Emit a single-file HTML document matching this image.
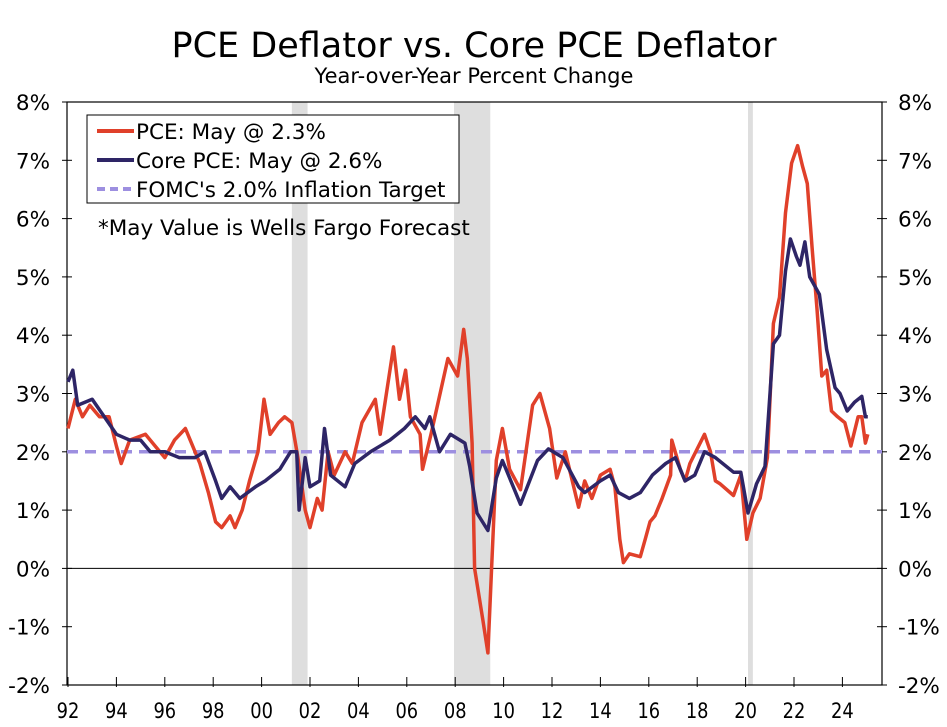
<!DOCTYPE html>
<html><head><meta charset="utf-8"><style>
body{margin:0;background:#fff;}
svg{display:block;font-family:"DejaVu Sans","Liberation Sans",sans-serif;}
</style></head><body>
<svg id="chart" width="947" height="727" viewBox="0 0 947 727">
<text x="474" y="57" text-anchor="middle" font-size="35" fill="#000">PCE Deflator vs. Core PCE Deflator</text>
<text x="474" y="83" text-anchor="middle" font-size="21" fill="#000">Year-over-Year Percent Change</text>
<g id="rec"></g>
<g id="grid"></g>
<g id="series"></g>
<g>
<rect x="87" y="115" width="372" height="88" fill="#fff" stroke="#000" stroke-width="1"/>
<line x1="97" y1="131" x2="134" y2="131" stroke="#e0402a" stroke-width="4"/>
<text x="136" y="139" font-size="21.5">PCE: May @ 2.3%</text>
<line x1="97" y1="160" x2="134" y2="160" stroke="#2e2566" stroke-width="4"/>
<text x="136" y="168" font-size="21.5">Core PCE: May @ 2.6%</text>
<line x1="97" y1="189" x2="134" y2="189" stroke="#9d8fe0" stroke-width="4" stroke-dasharray="8,5"/>
<text x="136" y="197" font-size="21.5">FOMC's 2.0% Inflation Target</text>
</g>
<text x="98" y="235" font-size="21.5">*May Value is Wells Fargo Forecast</text>
</svg>
<script>
const yTicks=[-2,-1,0,1,2,3,4,5,6,7,8];
const xTickYears=[1992,1994,1996,1998,2000,2002,2004,2006,2008,2010,2012,2014,2016,2018,2020,2022,2024];
const xTickLabels=["92","94","96","98","00","02","04","06","08","10","12","14","16","18","20","22","24"];
const recessionStarts=[2001.25,2007.95,2020.1];
const recessionEnds=[2001.9,2009.45,2020.3];
const target=2.0;
const pceDates=[1992.0,1992.3,1992.6,1992.9,1993.3,1993.7,1994.0,1994.2,1994.55,1995.2,1995.6,1996.0,1996.4,1996.85,1997.05,1997.45,1997.8,1998.1,1998.35,1998.7,1998.9,1999.2,1999.5,1999.85,2000.1,2000.35,2000.7,2000.95,2001.25,2001.5,2001.8,2002.0,2002.3,2002.5,2002.75,2003.0,2003.45,2003.75,2004.15,2004.7,2004.9,2005.45,2005.7,2005.95,2006.15,2006.55,2006.65,2007.0,2007.7,2008.1,2008.35,2008.5,2008.7,2008.8,2009.15,2009.35,2009.7,2009.95,2010.25,2010.7,2011.2,2011.5,2011.9,2012.2,2012.55,2013.1,2013.35,2013.65,2014.0,2014.4,2014.6,2014.8,2014.95,2015.2,2015.65,2015.85,2016.05,2016.25,2016.55,2016.9,2016.95,2017.3,2017.5,2017.7,2018.3,2018.55,2018.75,2018.95,2019.5,2019.8,2020.05,2020.3,2020.6,2020.9,2021.15,2021.4,2021.65,2021.9,2022.15,2022.35,2022.55,2022.75,2022.95,2023.15,2023.35,2023.55,2023.8,2024.1,2024.35,2024.65,2024.8,2024.95,2025.05];
const pceValues=[2.4,2.9,2.6,2.8,2.6,2.6,2.1,1.8,2.2,2.3,2.1,1.9,2.2,2.4,2.2,1.8,1.3,0.8,0.7,0.9,0.7,1.0,1.5,2.0,2.9,2.3,2.5,2.6,2.5,1.9,1.0,0.7,1.2,1.0,2.0,1.6,2.0,1.8,2.5,2.9,2.3,3.8,2.9,3.4,2.6,2.3,1.7,2.3,3.6,3.3,4.1,3.6,2.15,0.0,-0.9,-1.45,1.85,2.4,1.7,1.35,2.8,3.0,2.4,1.55,2.0,1.05,1.5,1.2,1.6,1.7,1.4,0.5,0.1,0.25,0.2,0.5,0.8,0.9,1.2,1.6,2.2,1.7,1.5,1.8,2.3,2.0,1.5,1.45,1.25,1.6,0.5,0.95,1.2,1.9,4.2,4.65,6.1,6.95,7.25,6.9,6.6,5.5,4.45,3.3,3.4,2.7,2.6,2.5,2.1,2.6,2.6,2.15,2.3];
const coreDates=[1992.0,1992.2,1992.4,1993.0,1993.5,1994.0,1994.55,1995.0,1995.4,1996.0,1996.6,1997.25,1997.65,1998.1,1998.35,1998.7,1999.1,1999.75,2000.15,2000.75,2001.2,2001.45,2001.55,2001.8,2002.0,2002.4,2002.6,2002.85,2003.45,2003.85,2004.5,2005.3,2005.9,2006.35,2006.75,2006.95,2007.35,2007.8,2008.4,2008.6,2008.9,2009.35,2009.7,2009.95,2010.7,2011.4,2011.85,2012.45,2013.1,2013.35,2014.0,2014.4,2014.75,2015.2,2015.65,2016.15,2016.7,2017.1,2017.5,2017.9,2018.3,2018.75,2019.5,2019.8,2020.1,2020.45,2020.8,2021.15,2021.4,2021.65,2021.85,2022.1,2022.25,2022.45,2022.65,2023.05,2023.35,2023.7,2023.9,2024.2,2024.5,2024.8,2024.95,2025.05];
const coreValues=[3.2,3.4,2.8,2.9,2.6,2.3,2.2,2.2,2.0,2.0,1.9,1.9,2.0,1.5,1.2,1.4,1.2,1.4,1.5,1.7,2.0,2.0,1.0,1.9,1.4,1.5,2.4,1.6,1.4,1.8,2.0,2.2,2.4,2.6,2.4,2.6,2.0,2.3,2.15,1.75,0.95,0.65,1.55,1.85,1.1,1.85,2.05,1.9,1.4,1.3,1.5,1.6,1.3,1.2,1.3,1.6,1.8,1.9,1.5,1.6,2.0,1.9,1.65,1.65,0.95,1.45,1.75,3.85,4.0,5.1,5.65,5.35,5.2,5.6,5.0,4.7,3.75,3.1,3.0,2.7,2.85,2.95,2.6,2.6];

const L=67,R=882,T=102,B=685;
function X(t){return 68+(t-1992)*24.2;}
function Y(v){return T+(8-v)*(B-T)/10;}
const NS="http://www.w3.org/2000/svg";
function mk(tag,attrs,parent){const e=document.createElementNS(NS,tag);for(const k in attrs)e.setAttribute(k,attrs[k]);parent.appendChild(e);return e;}
const rec=document.getElementById('rec'),grid=document.getElementById('grid'),ser=document.getElementById('series');
recessionStarts.forEach((s,i)=>{
 const r=mk('rect',{x:X(s),y:T,width:X(recessionEnds[i])-X(s),height:B-T,fill:'#dedede'},rec);
 
 
});
const frame=mk('rect',{x:L,y:T,width:R-L,height:B-T,fill:'none',stroke:'#000','stroke-width':1.2},grid);


const zl=mk('line',{x1:L,x2:R,y1:Y(0),y2:Y(0),stroke:'#000','stroke-width':1},grid);


yTicks.forEach(v=>{
 const y=Y(v);
 mk('line',{x1:L-5,x2:L+5,y1:y,y2:y,stroke:'#000'},grid);
 mk('line',{x1:R-5,x2:R+5,y1:y,y2:y,stroke:'#000'},grid);
 const a=mk('text',{x:50,y:y+8,'text-anchor':'end','font-size':21.5},grid);a.textContent=v+'%';
 
 
 const b=mk('text',{x:898,y:y+8,'font-size':21.5},grid);b.textContent=v+'%';
 
 
});
xTickYears.forEach((t,i)=>{
 const x=X(t);
 mk('line',{x1:x,x2:x,y1:B-8,y2:B+2,stroke:'#000'},grid);
 const a=mk('text',{x:x,y:718,'text-anchor':'middle','font-size':21,'transform':'translate('+x+',0) scale(0.85,1) translate('+(-x)+',0)'},grid);a.textContent=xTickLabels[i];
 
 
});
const tl=mk('line',{x1:L,x2:R,y1:Y(target),y2:Y(target),stroke:'#9d8fe0','stroke-width':3.5,'stroke-dasharray':'11,7'},ser);


function path(d,v){return d.map((t,i)=>(i?'L':'M')+X(t).toFixed(1)+','+Y(v[i]).toFixed(1)).join('');}
const p1=mk('path',{d:path(pceDates,pceValues),fill:'none',stroke:'#e0402a','stroke-width':3.5,'stroke-linejoin':'round'},ser);


const p2=mk('path',{d:path(coreDates,coreValues),fill:'none',stroke:'#2e2566','stroke-width':3.5,'stroke-linejoin':'round'},ser);


</script>
</body></html>
